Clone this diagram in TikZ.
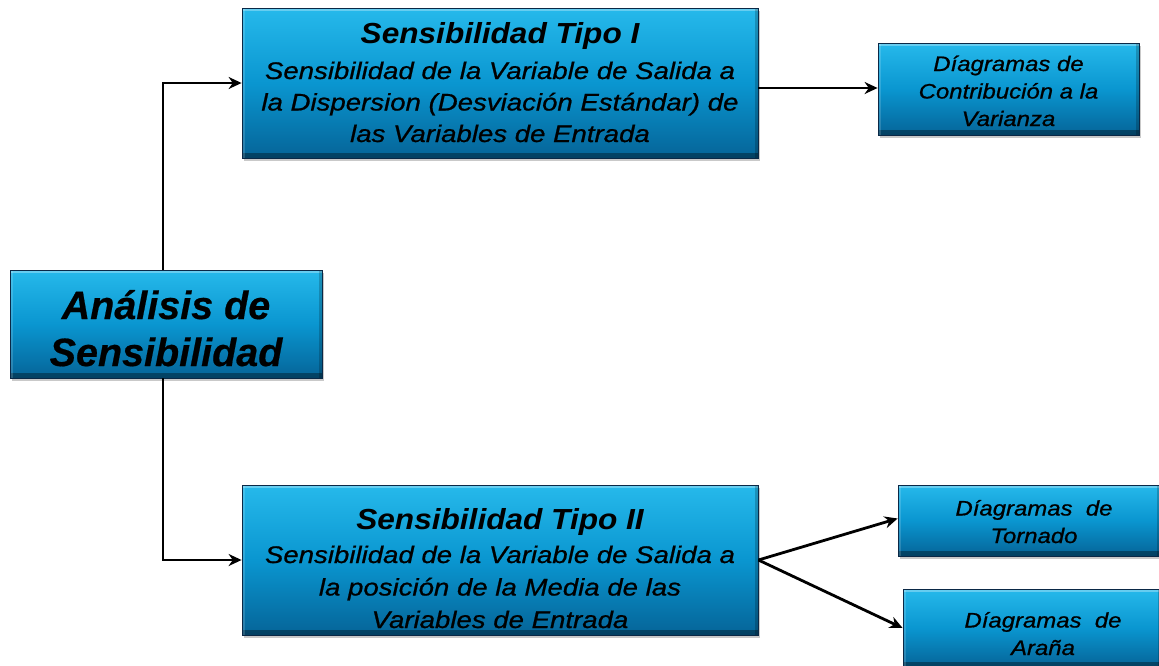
\documentclass[tikz,border=0pt]{standalone}
\usepackage{fontspec}
\setmainfont{Liberation Sans}[FakeBold=0.5]
\newfontfamily\wideit[FakeStretch=1.15,FakeBold=0.8]{Liberation Sans}
\newfontfamily\smallit[FakeStretch=1.14,FakeBold=0.8]{Liberation Sans}
\newfontfamily\titleit[FakeStretch=1.09]{Liberation Sans}
\usetikzlibrary{arrows.meta,shadows}
\definecolor{boxtop}{RGB}{38,185,235}
\definecolor{boxmid}{RGB}{10,150,208}
\definecolor{boxbot}{RGB}{5,100,152}
\definecolor{boxedge}{RGB}{10,40,70}
\tikzset{
  bluebox/.style={rectangle, draw=boxedge, line width=0.8pt,
    top color=boxtop, bottom color=boxbot, middle color=boxmid,
    drop shadow={shadow xshift=2pt, shadow yshift=-3pt, opacity=0.35, fill=black!60},
    inner sep=0pt,
    path picture={
      \fill[white,opacity=0.30] (path picture bounding box.north west) rectangle ([yshift=-3pt]path picture bounding box.north east);
      \fill[black,opacity=0.35] (path picture bounding box.south west) rectangle ([yshift=5pt]path picture bounding box.south east);
      \fill[black,opacity=0.20] (path picture bounding box.north east) rectangle ([xshift=-3pt]path picture bounding box.south east);
      \fill[white,opacity=0.15] (path picture bounding box.north west) rectangle ([xshift=3pt]path picture bounding box.south west);
    }},
  lbl/.style={anchor=base, inner sep=0pt, align=center, text=black},
  bigfont/.style={font=\fontsize{39.5}{47}\selectfont\bfseries\itshape},
  titlefont/.style={font=\titleit\fontsize{29}{36}\selectfont\bfseries\itshape},
  subfont/.style={font=\wideit\fontsize{24}{31.5}\selectfont\itshape},
  smallfont/.style={font=\smallit\fontsize{21}{27.5}\selectfont\itshape},
  conn/.style={line width=2.8pt, -{Stealth[length=13pt,width=12pt]}}
}
\begin{document}
\begin{tikzpicture}[x=1pt,y=-1pt]
\useasboundingbox[fill=white] (0,0) rectangle (1159,665);
\node[bluebox, minimum width=312pt, minimum height=108pt] (main) at (166,324) {};
\node[bluebox, minimum width=516pt, minimum height=150pt] (t1) at (500,83) {};
\node[bluebox, minimum width=516pt, minimum height=150pt] (t2) at (500,560) {};
\node[bluebox, minimum width=261pt, minimum height=92pt] (c1) at (1008.5,89) {};
\node[bluebox, minimum width=262pt, minimum height=71pt] (tor) at (1029,520.5) {};
\node[bluebox, minimum width=258pt, minimum height=78pt] (ara) at (1032,628) {};
\node[lbl, bigfont] (mainl) at (166,366) {Análisis de\\Sensibilidad};
\node[lbl, titlefont] (t1a) at (500,43) {Sensibilidad Tipo I};
\node[lbl, subfont] (t1b) at (500,142)
  {Sensibilidad de la Variable de Salida a\\la Dispersion (Desviación Estándar) de\\las Variables de Entrada};
\node[lbl, titlefont] (t2a) at (500,529) {Sensibilidad Tipo II};
\node[lbl, subfont, font=\wideit\fontsize{24}{32.5}\selectfont\itshape] (t2b) at (500,628)
  {Sensibilidad de la Variable de Salida a\\la posición de la Media de las\\Variables de Entrada};
\node[lbl, smallfont] (c1l) at (1008.5,126) {Díagramas de\\Contribución a la\\Varianza};
\node[lbl, smallfont] (torl) at (1034,543) {Díagramas\ \ de\\Tornado};
\node[lbl, smallfont] (aral) at (1043,655) {Díagramas\ \ de\\Araña};
\draw[conn] ([xshift=-3pt]main.north) |- (t1.west);
\draw[conn] ([xshift=-3pt]main.south) |- (t2.west);
\draw[conn] ([yshift=-5pt]t1.east) -- ([yshift=-5pt]t1.east -| c1.west);
\draw[conn] (t2.east) -- ([yshift=2pt]tor.west);
\draw[conn] (t2.east) -- ([yshift=0pt]ara.west);
\end{tikzpicture}
\end{document}
